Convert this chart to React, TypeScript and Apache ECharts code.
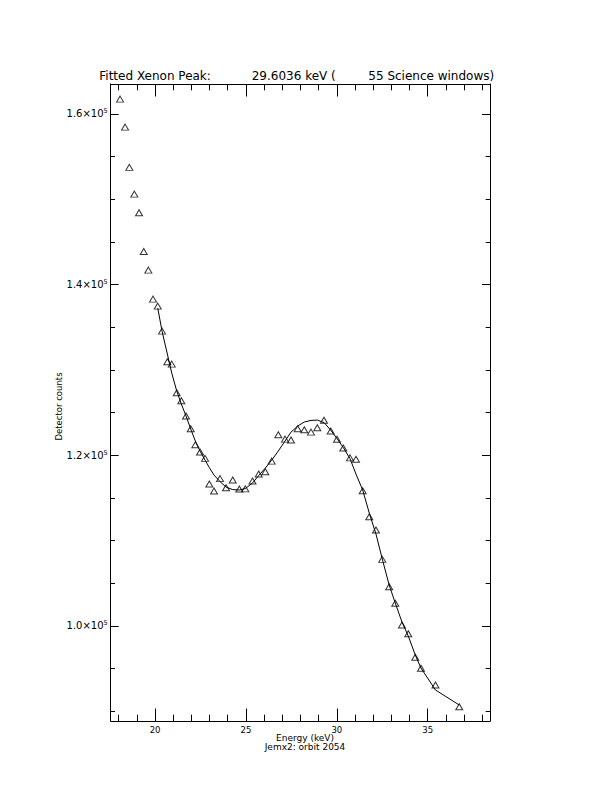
import React, { useEffect, useRef } from "react";
import * as echarts from "echarts";

// Energy of each Science-window bin (keV)
const energy: number[] = [
  18.075, 18.35, 18.586, 18.861, 19.12, 19.378, 19.631, 19.89,
  20.149, 20.385, 20.677, 20.919, 21.194, 21.447, 21.705, 21.964, 22.217, 22.475, 22.75, 22.987,
  23.245, 23.575, 23.905, 24.274, 24.637, 24.967, 25.363, 25.704, 26.067, 26.419,
  26.782, 27.151, 27.481, 27.849, 28.212, 28.581, 28.927, 29.296, 29.664, 30.011,
  30.357, 30.726, 31.056, 31.425, 31.788, 32.156, 32.503, 32.882, 33.218, 33.586,
  33.933, 34.318, 34.631, 35.429, 36.738,
];

// Detector counts (triangles)
const counts: number[] = [
  161740, 158460, 153740, 150610, 148420, 143890, 141700, 138300,
  137480, 134550, 130950, 130680, 127320, 126380, 124590, 123100, 121220, 120370, 119630, 116620,
  115800, 117260, 116190, 117090, 116030, 116050, 116970, 117790, 118060, 119310,
  122400, 121890, 121780, 123100, 122980, 122710, 123220, 124100, 122830, 121870,
  120840, 119690, 119530, 115830, 112790, 111230, 107790, 104580, 102640, 100090,
  99070, 96310, 95020, 93060, 90520,
];

// Fitted curve, starting at the 9th energy bin
const fitStart = 8;
const fitCounts: number[] = [
  137250, 134550, 131860, 129630, 127520, 126000, 124590, 123070, 121660, 120490, 119430, 118550,
  117670, 116910, 116270, 115970, 115920, 116090, 116740, 117620, 118490, 119430,
  120490, 121660, 122710, 123420, 123890, 124080, 124120, 123830, 122950, 121950,
  120900, 119610, 117790, 115920, 113220, 110760, 107830, 104780, 102670, 100450,
  98800, 96580, 95050, 92480, 90720,
];

const xMajor: number[] = [20, 25, 30, 35];
const xMinor: number[] = [18, 19, 20, 21, 22, 23, 24, 25, 26, 27, 28, 29, 30, 31, 32, 33, 34, 35, 36, 37, 38];
const yMajor: number[] = [100000, 120000, 140000, 160000];
const yMinor: number[] = [
  90000, 95000, 100000, 105000, 110000, 115000, 120000, 125000, 130000, 135000,
  140000, 145000, 150000, 155000, 160000,
];

const titleParts: string[] = ["Fitted Xenon Peak:", "29.6036 keV (", "55 Science windows)"];
const xTitle = "Energy (keV)";
const xSubTitle = "Jemx2: orbit 2054";
const yTitle = "Detector counts";

const FONT = "DejaVu Sans";
const X_MIN = 17.56;
const X_MAX = 38.43;
const Y_MIN = 88843;
const Y_MAX = 163516;

function xAxisDef(position: "bottom" | "top", ticks: number[], len: number, withLabel: boolean, withLine: boolean) {
  return {
    type: "value",
    position,
    min: X_MIN,
    max: X_MAX,
    axisLine: { show: withLine, onZero: false, lineStyle: { color: "#000", width: 1 } },
    axisTick: { show: true, inside: true, length: len, customValues: ticks, lineStyle: { color: "#000", width: 1 } },
    axisLabel: withLabel
      ? { show: true, customValues: xMajor, color: "#000", fontFamily: FONT, fontSize: 8.5, lineHeight: 9, margin: 4 }
      : { show: false },
    splitLine: { show: false },
  };
}

function yAxisDef(position: "left" | "right", ticks: number[], len: number, withLabel: boolean, withLine: boolean) {
  return {
    type: "value",
    position,
    min: Y_MIN,
    max: Y_MAX,
    axisLine: { show: withLine, onZero: false, lineStyle: { color: "#000", width: 1 } },
    axisTick: { show: true, inside: true, length: len, customValues: ticks, lineStyle: { color: "#000", width: 1 } },
    axisLabel: withLabel
      ? {
          show: true,
          customValues: yMajor,
          margin: 3,
          formatter: (v: number) => `{a|${(v / 100000).toFixed(1)}×10}{s|5}`,
          rich: {
            a: { color: "#000", fontFamily: FONT, fontSize: 10, lineHeight: 12 },
            s: { color: "#000", fontFamily: FONT, fontSize: 6.5, lineHeight: 12, verticalAlign: "top", padding: [0, 0, 6, 0] },
          },
        }
      : { show: false },
    splitLine: { show: false },
  };
}

export default function App() {
  const ref = useRef<HTMLDivElement>(null);

  useEffect(() => {
    if (!ref.current) return;
    const chart = echarts.init(ref.current, undefined, { renderer: "svg" });
    const pts = energy.map((e, i) => [e, counts[i]]);
    const fit = fitCounts.map((c, i) => [energy[fitStart + i], c]);

    chart.setOption({
      animation: false,
      backgroundColor: "#fff",
      grid: { left: 110.7, right: 122, top: 84, bottom: 71, outerBoundsMode: "none", containLabel: false },
      xAxis: [
        xAxisDef("bottom", xMajor, 12.5, true, true),
        xAxisDef("bottom", xMinor, 6.3, false, false),
        xAxisDef("top", xMajor, 12.5, false, true),
        xAxisDef("top", xMinor, 6.3, false, false),
      ],
      yAxis: [
        yAxisDef("left", yMajor, 8, true, true),
        yAxisDef("left", yMinor, 4.3, false, false),
        yAxisDef("right", yMajor, 8, false, true),
        yAxisDef("right", yMinor, 4.3, false, false),
      ],
      graphic: [
        { type: "text", x: 99.3, y: 75.7, style: { text: titleParts[0], fill: "#000", font: `12px "${FONT}"`, align: "left", verticalAlign: "middle" } },
        { type: "text", x: 251.7, y: 75.7, style: { text: titleParts[1], fill: "#000", font: `12px "${FONT}"`, align: "left", verticalAlign: "middle" } },
        { type: "text", x: 368.3, y: 75.7, style: { text: titleParts[2], fill: "#000", font: `12px "${FONT}"`, align: "left", verticalAlign: "middle" } },
        { type: "text", x: 305, y: 737.5, style: { text: xTitle, fill: "#000", font: `9px "${FONT}"`, lineHeight: 9, align: "center", verticalAlign: "middle" } },
        { type: "text", x: 305, y: 746.5, style: { text: xSubTitle, fill: "#000", font: `9px "${FONT}"`, lineHeight: 9, align: "center", verticalAlign: "middle" } },
        { type: "text", x: 59, y: 406.5, rotation: Math.PI / 2, style: { text: yTitle, fill: "#000", font: `8.5px "${FONT}"`, align: "center", verticalAlign: "middle" } },
      ],
      series: [
        {
          type: "line",
          name: "fit",
          xAxisIndex: 0,
          yAxisIndex: 0,
          data: fit,
          showSymbol: false,
          symbol: "none",
          lineStyle: { color: "#000", width: 1 },
          silent: true,
          z: 2,
        },
        {
          type: "scatter",
          name: "counts",
          xAxisIndex: 0,
          yAxisIndex: 0,
          data: pts,
          symbol: "triangle",
          symbolSize: [7, 6],
          itemStyle: { color: "rgba(0,0,0,0)", borderColor: "#000", borderWidth: 1 },
          silent: true,
          z: 3,
        },
      ],
    });
    return () => chart.dispose();
  }, []);

  return <div ref={ref} style={{ position: "fixed", left: 0, top: 0, width: 612, height: 792, background: "#fff" }} />;
}
